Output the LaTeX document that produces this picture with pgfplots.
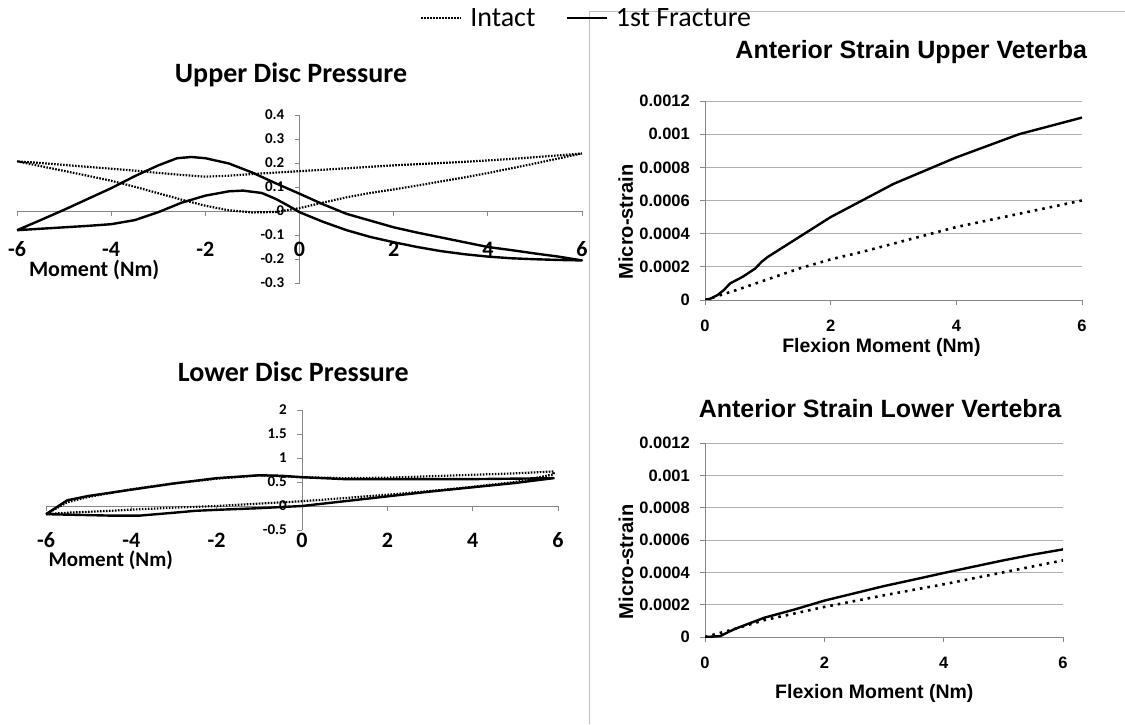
\documentclass[border=0pt]{standalone}
\usepackage{pgfplots}
\pgfplotsset{compat=1.18}
\usepackage{fontspec}
\newfontfamily\calfont{Carlito}
\newfontfamily\arifont{Liberation Sans}
\definecolor{axgray}{RGB}{134,134,134}
\definecolor{gridgray}{RGB}{175,175,175}
\definecolor{sepgray}{RGB}{190,190,190}

\pgfplotsset{
  intact/.style={black, line width=2.2pt, dash pattern=on 1.6pt off 1.4pt},
  fract/.style={black, line width=2.4pt, line join=round},
  discaxis/.style={
    scale only axis, anchor=south west, clip=false,
    axis lines=middle, axis line style={axgray, line width=0.8pt, -},
    hide obscured x ticks=false, hide obscured y ticks=false,
    xmin=-6, xmax=6,
    xtick={-6,-4,-2,0,2,4,6}, xticklabels={-6,-4,-2,0,2,4,6},
    tick style={axgray, line width=0.8pt}, major tick length=5pt, tick align=outside,
    xticklabel style={font=\calfont\bfseries\fontsize{22}{24}\selectfont, anchor=center, yshift=-33pt},
    yticklabel style={font=\calfont\bfseries\fontsize{15}{17}\selectfont, anchor=east, inner sep=0pt, xshift=-10pt},
    title style={font=\calfont\bfseries\fontsize{28}{30}\selectfont, anchor=center},
    xlabel style={font=\calfont\bfseries\fontsize{22}{24}\selectfont, anchor=west},
  },
  strainaxis/.style={
    scale only axis, anchor=south west,
    xmin=0, xmax=6, ymin=0, ymax=0.0012,
    xtick={0,2,4,6}, xticklabels={0,2,4,6},
    ytick={0,0.0002,0.0004,0.0006,0.0008,0.001,0.0012},
    yticklabels={0,0.0002,0.0004,0.0006,0.0008,0.001,0.0012},
    scaled y ticks=false,
    axis x line*=bottom, axis y line*=left,
    axis line style={axgray, line width=0.9pt, -},
    ymajorgrids, grid style={gridgray, line width=0.9pt},
    tick style={axgray, line width=0.9pt}, major tick length=5pt, tick align=outside,
    xticklabel style={font=\arifont\bfseries\fontsize{16.5}{18}\selectfont, anchor=center, yshift=-21pt},
    yticklabel style={font=\arifont\bfseries\fontsize{16.5}{18}\selectfont, anchor=east, inner sep=0pt, xshift=-10pt},
    title style={font=\arifont\bfseries\fontsize{25}{27}\selectfont, anchor=center},
    xlabel style={font=\arifont\bfseries\fontsize{19.5}{21}\selectfont, anchor=center},
    ylabel style={font=\arifont\bfseries\fontsize{20}{22}\selectfont, anchor=center},
  },
}

\begin{document}
\begin{tikzpicture}[x=1pt,y=1pt]
\useasboundingbox (0,0) rectangle (1125,724);
\fill[white] (0,0) rectangle (1125,724);
% panel separators
\draw[sepgray, line width=1pt] (589,0) -- (589,712) -- (1125,712);

% Upper Disc Pressure
\begin{axis}[discaxis, at={(17pt,441pt)}, width=565pt, height=168pt,
    ymin=-0.3, ymax=0.4,
    ytick={-0.3,-0.2,-0.1,0,0.1,0.2,0.3,0.4},
    yticklabels={-0.3,-0.2,-0.1,0,0.1,0.2,0.3,0.4},
    title={Upper Disc Pressure}, title style={at={(axis description cs:0.485,1.202)}},
    xlabel={Moment (Nm)}, xlabel style={at={(axis description cs:0.015,0.077)}},
    legend style={at={(axis description cs:0.713,1.577)}, anchor=west, draw=none, fill=none,
      legend columns=2, font=\calfont\fontsize{28}{30}\selectfont, inner sep=0pt,
      nodes={inner sep=3pt},
      /tikz/every odd column/.append style={column sep=5pt},
      /tikz/every even column/.append style={column sep=27pt}},
    legend image code/.code={\draw[#1] (0pt,0pt) -- (40pt,0pt);},
  ]
\addplot[intact] coordinates {
  (-6,0.207)(-5.5,0.187)(-5,0.167)(-4.5,0.147)(-4,0.126)(-3.5,0.101)(-3,0.074)
  (-2.5,0.047)(-2,0.022)(-1.5,0.003)(-1,-0.006)(-0.5,-0.004)(0,0.012)(0.5,0.035)
  (1,0.057)(1.5,0.075)(2,0.09)(2.5,0.106)(3,0.123)(3.5,0.14)(4,0.158)(4.5,0.178)
  (5,0.198)(5.5,0.219)(6,0.24)
  (5.5,0.232)(5,0.224)(4.5,0.217)(4,0.211)(3.5,0.205)(3,0.2)(2.5,0.195)(2,0.19)
  (1.5,0.184)(1,0.178)(0.5,0.172)(0,0.166)(-0.5,0.16)(-1,0.154)(-1.5,0.147)
  (-2,0.143)(-2.5,0.15)(-3,0.159)(-3.5,0.168)(-4,0.176)(-4.5,0.184)(-5,0.192)
  (-5.5,0.2)(-6,0.207)
};
\addlegendentry{Intact}
\addplot[fract] coordinates {
  (-6,-0.08)(-5.5,-0.074)(-5,-0.068)(-4.5,-0.062)(-4,-0.055)(-3.5,-0.038)(-3,-0.005)
  (-2.5,0.035)(-2,0.064)(-1.5,0.082)(-1.2,0.085)(-0.8,0.075)(-0.5,0.05)(-0.2,0.018)
  (0,-0.005)(0.5,-0.045)(1,-0.08)(1.5,-0.108)(2,-0.13)(2.5,-0.15)(3,-0.167)
  (3.5,-0.18)(4,-0.19)(4.5,-0.197)(5,-0.201)(5.5,-0.204)(6,-0.206)
  (5.5,-0.19)(5,-0.177)(4.5,-0.163)(4,-0.15)(3.5,-0.13)(3,-0.11)(2.5,-0.09)
  (2,-0.068)(1.5,-0.04)(1,-0.012)(0.5,0.028)(0,0.072)(-0.5,0.115)(-1,0.16)
  (-1.5,0.198)(-2,0.22)(-2.3,0.225)(-2.6,0.22)(-3,0.19)(-3.5,0.145)(-4,0.095)
  (-4.5,0.05)(-5,0.005)(-5.5,-0.038)(-6,-0.08)
};
\addlegendentry{1st Fracture}
\end{axis}

% Lower Disc Pressure
\begin{axis}[discaxis, at={(46pt,194pt)}, width=512pt, height=120pt,
    ymin=-0.5, ymax=2,
    ytick={-0.5,0,0.5,1,1.5,2},
    yticklabels={-0.5,0,0.5,1,1.5,2},
    xticklabel style={yshift=4pt},
    title={Lower Disc Pressure}, title style={at={(axis description cs:0.483,1.267)}},
    xlabel={Moment (Nm)},
    xlabel style={at={(axis description cs:-0.002,-0.255)}, font=\calfont\bfseries\fontsize{21}{23}\selectfont},
  ]
\addplot[intact] coordinates {
  (-6,-0.17)(-5.5,-0.14)(-5,-0.12)(-4.5,-0.1)(-4,-0.075)(-3,-0.035)(-2,0.0)
  (-1,0.05)(0,0.1)(1,0.165)(2,0.235)(3,0.31)(4,0.4)(5,0.5)(5.9,0.66)
  (5.9,0.72)(5,0.68)(4,0.65)(3,0.62)(2,0.59)(1,0.58)(0,0.6)(-1,0.64)(-2,0.57)
  (-3,0.47)(-4,0.35)(-5,0.19)(-5.5,0.08)(-6,-0.17)
};
\addplot[fract] coordinates {
  (-6,-0.17)(-5.5,-0.18)(-5,-0.19)(-4.5,-0.2)(-3.8,-0.2)(-3,-0.14)(-2.5,-0.1)
  (-2,-0.08)(-1,-0.045)(0,0.0)(1,0.1)(2,0.2)(3,0.3)(4,0.39)(5,0.48)(5.9,0.58)
  (5,0.57)(4,0.56)(3,0.56)(2,0.56)(1,0.56)(0,0.6)(-0.5,0.63)(-1,0.64)(-2,0.58)
  (-3,0.47)(-4,0.34)(-5,0.21)(-5.5,0.12)(-6,-0.17)
};
\end{axis}

% Anterior Strain Upper Veterba
\begin{axis}[strainaxis, at={(705pt,424pt)}, width=377pt, height=199pt,
    title={Anterior Strain Upper Veterba}, title style={at={(axis description cs:0.547,1.216)}},
    xlabel={Flexion Moment (Nm)}, xlabel style={at={(axis description cs:0.468,-0.236)}},
    ylabel={Micro-strain}, ylabel style={at={(axis description cs:-0.210,0.392)}},
  ]
\addplot[intact, line width=2.6pt, dash pattern=on 2.6pt off 5pt] coordinates {
  (0,0)(0.5,0.00006)(1,0.000125)(1.5,0.00019)(2,0.000245)(2.5,0.00029)(3,0.00034)
  (3.5,0.00039)(4,0.00044)(4.5,0.00048)(5,0.00052)(5.5,0.00056)(6,0.0006)
};
\addplot[fract] coordinates {
  (0,0)(0.1,0.00001)(0.2,0.00003)(0.3,0.00006)(0.4,0.0001)(0.6,0.00014)(0.8,0.00019)
  (0.9,0.00023)(1,0.00026)(1.5,0.00038)(2,0.0005)(2.5,0.0006)(3,0.0007)(3.5,0.00078)
  (4,0.00086)(4.5,0.00093)(5,0.001)(5.5,0.00105)(6,0.0011)
};
\end{axis}

% Anterior Strain Lower Vertebra
\begin{axis}[strainaxis, at={(705pt,87pt)}, width=358pt, height=194pt,
    title={Anterior Strain Lower Vertebra}, title style={at={(axis description cs:0.489,1.149)}},
    xlabel={Flexion Moment (Nm)}, xlabel style={at={(axis description cs:0.473,-0.289)}},
    ylabel={Micro-strain}, ylabel style={at={(axis description cs:-0.221,0.387)}},
  ]
\addplot[intact, line width=2.6pt, dash pattern=on 2.6pt off 5pt] coordinates {
  (0,0)(0.5,0.00005)(1,0.000105)(2,0.000186)(3,0.000258)(4,0.000326)(5,0.0004)(6,0.000474)
};
\addplot[fract] coordinates {
  (0,0)(0.25,0.000005)(0.5,0.00005)(1,0.00012)(1.5,0.00017)(2,0.000225)(2.5,0.00027)
  (3,0.000315)(3.5,0.000355)(4,0.000396)(4.5,0.000435)(5,0.000474)(5.5,0.00051)(6,0.000542)
};
\end{axis}
\end{tikzpicture}
\end{document}
